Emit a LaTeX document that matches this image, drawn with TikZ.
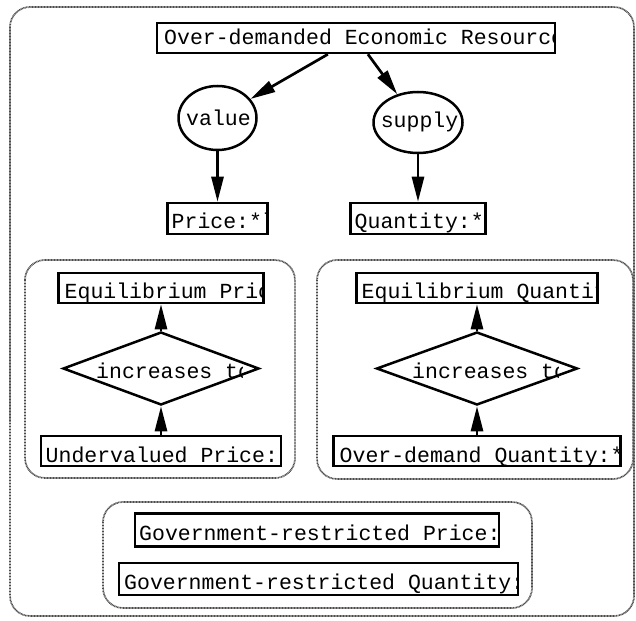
\documentclass[tikz,border=0pt]{standalone}
\usepackage{fontspec}
\newfontfamily\labelfont{Liberation Mono}
\usetikzlibrary{arrows.meta,shapes.geometric}

\tikzset{
  group/.style={draw=black!70, line width=1.7pt, dash pattern=on 0.9pt off 0.6pt, rounded corners=20pt},
  rectbox/.style={draw, line width=2.5pt, inner sep=0pt, rectangle},
  ovalbox/.style={draw, line width=2.5pt, inner sep=0pt, ellipse},
  diamondbox/.style={draw, line width=2.5pt, inner sep=0pt, diamond},
  lbl/.style={font=\labelfont\fontsize{21.5}{24}\selectfont, inner sep=0pt},
  edge/.style={line width=2.7pt, -{Triangle[length=25pt,width=12pt]}},
}

% \cbox{name}{cx}{cy}{w}{h}{baseline above bottom}{left pad}{text}
% a framed box whose left-aligned label is cut off at the frame
\newcommand\cbox[8]{%
  \begin{scope}
    \clip ({#2-#4/2},{#3-#5/2}) rectangle ({#2+#4/2},{#3+#5/2});
    \node[lbl, anchor=base west] at ({#2-#4/2+#7},{#3+#5/2-#6}) {#8};
  \end{scope}
  \node[rectbox, minimum width=#4pt, minimum height=#5pt] (#1) at (#2,#3) {};
}

% \dbox{name}{cx}{cy}{w}{h}{baseline}{text}
% a diamond whose label is cut off towards its right corner
\newcommand\dbox[7]{%
  \begin{scope}
    \clip ({#2-#4/2},{#3-#5/2}) rectangle ({#2+81},{#3+#5/2});
    \node[lbl, anchor=base west] at ({#2-65},#6) {#7};
  \end{scope}
  \node[diamondbox, minimum width=#4pt, minimum height=#5pt] (#1) at (#2,#3) {};
}

\begin{document}
\begin{tikzpicture}[x=1pt, y=-1pt]
  \useasboundingbox (0,0) rectangle (636,620);

  % containers
  \draw[group] (10,7) rectangle (634,616);
  \draw[group] (25,260) rectangle (295,478);
  \draw[group] (317,260) rectangle (633,479);
  \draw[group] (103,502) rectangle (532,608);

  % top of the tree
  \cbox{res}{356}{38}{398}{30}{8}{7}{Over-demanded Economic Resource}

  \node[ovalbox, minimum width=78pt, minimum height=64pt] (value) at (217.5,118) {};
  \node[lbl, anchor=base] (valuetxt) at (218.5,126) {value};
  \node[ovalbox, minimum width=89pt, minimum height=61pt] (supply) at (418,122.5) {};
  \node[lbl, anchor=base] (supplytxt) at (419.5,128) {supply};

  \cbox{price}{217.5}{218.5}{100}{31}{6}{4}{Price:*low}
  \cbox{qty}{418}{218.5}{135}{31}{6}{4}{Quantity:*}

  \draw[edge] (res) -- (value);
  \draw[edge] (res) -- (supply);
  \draw[edge] (value) -- (price);
  \draw[edge] (supply) -- (qty);

  % price column
  \cbox{eqp}{161}{288}{205}{30}{5}{6}{Equilibrium Price}
  \dbox{incp}{161}{368.5}{196}{73}{378}{increases to}
  \cbox{under}{161}{451}{240}{30}{4}{4.5}{Undervalued Price:*}
  \draw[edge] (under) -- (incp);
  \draw[edge] (incp) -- (eqp);

  % quantity column
  \cbox{eqq}{477}{288}{241}{30}{5}{5}{Equilibrium Quantity}
  \dbox{incq}{477}{368.5}{201}{73}{378}{increases to}
  \cbox{over}{477}{451}{287}{30}{4}{6}{Over-demand Quantity:*}
  \draw[edge] (over) -- (incq);
  \draw[edge] (incq) -- (eqq);

  % government limits
  \cbox{govp}{317}{530}{364}{33}{6}{4}{Government-restricted Price:}
  \cbox{govq}{318.5}{579}{399}{32}{6}{5}{Government-restricted Quantity:}
\end{tikzpicture}
\end{document}
